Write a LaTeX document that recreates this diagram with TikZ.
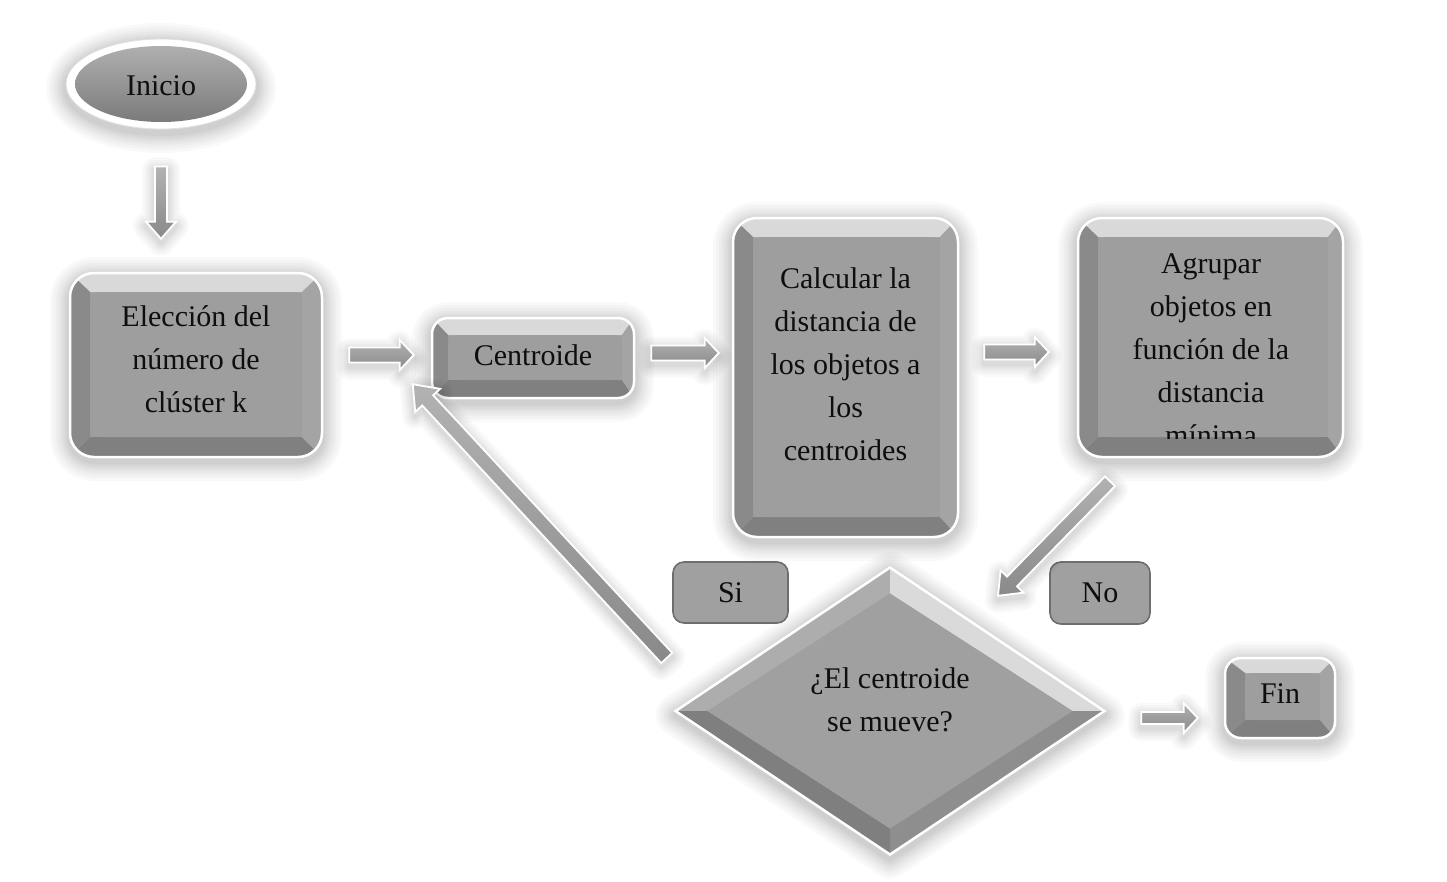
\documentclass[tikz,border=0pt]{standalone}
\usepackage{fontspec}
\setmainfont{Liberation Serif}
\usetikzlibrary{calc,shapes.geometric}
\definecolor{bvtop}{HTML}{D9D9D9}
\definecolor{bvleft}{HTML}{8A8A8A}
\definecolor{bvright}{HTML}{A4A4A4}
\definecolor{bvbot}{HTML}{808080}
\definecolor{bvpanel}{HTML}{9E9E9E}
\definecolor{dmtl}{HTML}{ADADAD}
\definecolor{dmtr}{HTML}{DADADA}
\definecolor{dmbr}{HTML}{8E8E8E}
\definecolor{dmbl}{HTML}{7F7F7F}
\definecolor{dmc}{HTML}{A0A0A0}
\definecolor{arrtop}{HTML}{B2B2B2}
\definecolor{arrbot}{HTML}{898989}
\definecolor{lblborder}{HTML}{6E6E6E}
\definecolor{lblfill}{HTML}{A0A0A0}
\definecolor{txtcol}{HTML}{0E0E0E}
\definecolor{elltop}{HTML}{B4B4B4}
\definecolor{ellmid}{HTML}{9E9E9E}
\definecolor{ellbot}{HTML}{767676}

\newcommand\blockarrow[5]{%
  \coordinate (bah) at ($(#2)!#5!(#1)$);
  \path[arrowshape] ($(#1)!#3!90:(#2)$) -- ($(bah)!#3!-90:(#1)$) -- ($(bah)!#4!-90:(#1)$) -- (#2)
     -- ($(bah)!#4!90:(#1)$) -- ($(bah)!#3!90:(#1)$) -- ($(#1)!#3!-90:(#2)$) -- cycle;
}

\tikzset{
  gl/.style={preaction={draw=black, draw opacity=0.022, line width=#1, line join=round, transform canvas={yshift=-4pt}}},
  glow/.style={gl=40pt, gl=34pt, gl=28pt, gl=23pt, gl=18pt, gl=14pt, gl=10pt, gl=6pt},
  smallglow/.style={gl=26pt, gl=21pt, gl=16pt, gl=12pt, gl=8pt, gl=5pt},
  txt/.style={font=\fontsize{30}{43}\selectfont, align=center, inner sep=0pt, text=txtcol},
  arrowshape/.style={smallglow, top color=arrtop, bottom color=arrbot, draw=white, line width=1.8pt, line join=miter},
  bevelbox/.style n args={4}{rectangle, rounded corners=24pt, glow, draw=white, line width=2.5pt, inner sep=0pt, fill=bvpanel,
    path picture={
      \fill[bvtop, sharp corners] (path picture bounding box.north west) -- (path picture bounding box.north east)
        -- ([shift={(-#2,-#1)}]path picture bounding box.north east) -- ([shift={(#4,-#1)}]path picture bounding box.north west) -- cycle;
      \fill[bvbot, sharp corners] (path picture bounding box.south west) -- (path picture bounding box.south east)
        -- ([shift={(-#2,#3)}]path picture bounding box.south east) -- ([shift={(#4,#3)}]path picture bounding box.south west) -- cycle;
      \fill[bvleft, sharp corners] (path picture bounding box.north west) -- ([shift={(#4,-#1)}]path picture bounding box.north west)
        -- ([shift={(#4,#3)}]path picture bounding box.south west) -- (path picture bounding box.south west) -- cycle;
      \fill[bvright, sharp corners] (path picture bounding box.north east) -- ([shift={(-#2,-#1)}]path picture bounding box.north east)
        -- ([shift={(-#2,#3)}]path picture bounding box.south east) -- (path picture bounding box.south east) -- cycle;
      \fill[bvpanel, rounded corners=9pt] ([shift={(#4,-#1)}]path picture bounding box.north west) rectangle ([shift={(-#2,#3)}]path picture bounding box.south east);
    }},
  decision/.style={diamond, aspect=1.5, minimum width=430pt, minimum height=288pt, inner sep=0pt, glow, draw=white, line width=2.5pt, fill=dmc,
    path picture={
      \fill[dmtl] (path picture bounding box.west) -- (path picture bounding box.north) -- ([yshift=-26pt]path picture bounding box.north) -- ([xshift=32pt]path picture bounding box.west) -- cycle;
      \fill[dmtr] (path picture bounding box.north) -- (path picture bounding box.east) -- ([xshift=-32pt]path picture bounding box.east) -- ([yshift=-26pt]path picture bounding box.north) -- cycle;
      \fill[dmbr] (path picture bounding box.east) -- (path picture bounding box.south) -- ([yshift=26pt]path picture bounding box.south) -- ([xshift=-32pt]path picture bounding box.east) -- cycle;
      \fill[dmbl] (path picture bounding box.south) -- (path picture bounding box.west) -- ([xshift=32pt]path picture bounding box.west) -- ([yshift=26pt]path picture bounding box.south) -- cycle;
      \fill[dmc] ([yshift=-26pt]path picture bounding box.north) -- ([xshift=-32pt]path picture bounding box.east) -- ([yshift=26pt]path picture bounding box.south) -- ([xshift=32pt]path picture bounding box.west) -- cycle;
    }},
  startnode/.style={ellipse, minimum width=190pt, minimum height=90pt, inner sep=0pt, glow, fill=white, draw=gray!25, line width=0.8pt,
    path picture={
      \shade[top color=elltop, middle color=ellmid, bottom color=ellbot] (path picture bounding box.center) ellipse [x radius=86pt, y radius=38pt];
    }},
  lbl/.style={rectangle, rounded corners=11pt, draw=lblborder, line width=1.6pt, fill=lblfill, inner sep=0pt,
    font=\fontsize{30}{43}\selectfont, text=txtcol},
}

\begin{document}
\begin{tikzpicture}[x=1pt, y=-1pt]
\path[use as bounding box, fill=white] (0,0) rectangle (1447,881);

% shapes
\node[startnode] (inicio) at (161,84) {};
\node[bevelbox={19pt}{20pt}{20pt}{20pt}, minimum width=252pt, minimum height=184pt] (elec) at (196,365) {};
\node[bevelbox={17pt}{12pt}{18pt}{16pt}, minimum width=202pt, minimum height=80pt, rounded corners=16pt] (cent) at (533,358) {};
\node[bevelbox={19pt}{18pt}{20pt}{20pt}, minimum width=225pt, minimum height=319pt] (calc) at (845.5,377.5) {};
\node[bevelbox={19pt}{15pt}{20pt}{20pt}, minimum width=265pt, minimum height=239pt] (agru) at (1210.5,337.5) {};
\node[decision] (dec) at (890,711) {};
\node[lbl, minimum width=115pt, minimum height=61pt] (si) at (730.5,592.5) {Si};
\node[lbl, minimum width=100pt, minimum height=62pt] (no) at (1100,593) {No};
\node[bevelbox={15pt}{15pt}{18pt}{20pt}, minimum width=110pt, minimum height=80pt, rounded corners=16pt] (fin) at (1280,698) {};

% connectors
\coordinate (a1s) at ($(inicio.south)+(0,37)$);
\coordinate (a1e) at ($(elec.north)+(-35,-33)$);
\blockarrow{a1s}{a1e}{6pt}{15pt}{17pt}
\coordinate (a2s) at ($(elec.east)+(26,-10)$);
\coordinate (a2e) at ($(cent.west)+(-17,-3)$);
\blockarrow{a2s}{a2e}{7.5pt}{15pt}{14pt}
\coordinate (a3s) at ($(cent.east)+(16,-5)$);
\coordinate (a3e) at ($(calc.west)+(-13,-24.5)$);
\blockarrow{a3s}{a3e}{7.5pt}{15pt}{14pt}
\coordinate (a4s) at ($(calc.east)+(25,-25.5)$);
\coordinate (a4e) at ($(agru.west)+(-28,14.5)$);
\blockarrow{a4s}{a4e}{7.5pt}{15pt}{14pt}
\coordinate (a5s) at ($(agru.south)+(-100.5,23)$);
\coordinate (a5e) at ($(dec.north)+(108,30)$);
\blockarrow{a5s}{a5e}{7pt}{16pt}{20pt}
\coordinate (a6s) at ($(dec.west)+(-7,-53)$);
\coordinate (a6e) at ($(cent.south west)+(-18,-15)$);
\blockarrow{a6s}{a6e}{7.5pt}{17pt}{22pt}
\coordinate (a7s) at ($(dec.east)+(35,7)$);
\coordinate (a7e) at ($(fin.west)+(-26,20)$);
\blockarrow{a7s}{a7e}{6pt}{15pt}{14pt}

% texts
\node[txt, anchor=base] (iniciot) at (161,95) {Inicio};
\node[txt] (elect) at (196,359) {Elección del\\número de\\clúster k};
\node[txt, anchor=base] (centt) at (533,365) {Centroide};
\node[txt] (calct) at (845.5,364) {Calcular la\\distancia de\\los objetos a\\los\\centroides};
\begin{scope}
  \clip ([shift={(20pt,-19pt)}]agru.north west) rectangle ([shift={(-15pt,20pt)}]agru.south east);
  \node[txt] (agrut) at (1211,350) {Agrupar\\objetos en\\función de la\\distancia\\mínima};
\end{scope}
\node[txt] (dect) at (890,700) {¿El centroide\\se mueve?};
\node[txt, anchor=base] (fint) at (1280,703) {Fin};
\end{tikzpicture}
\end{document}
